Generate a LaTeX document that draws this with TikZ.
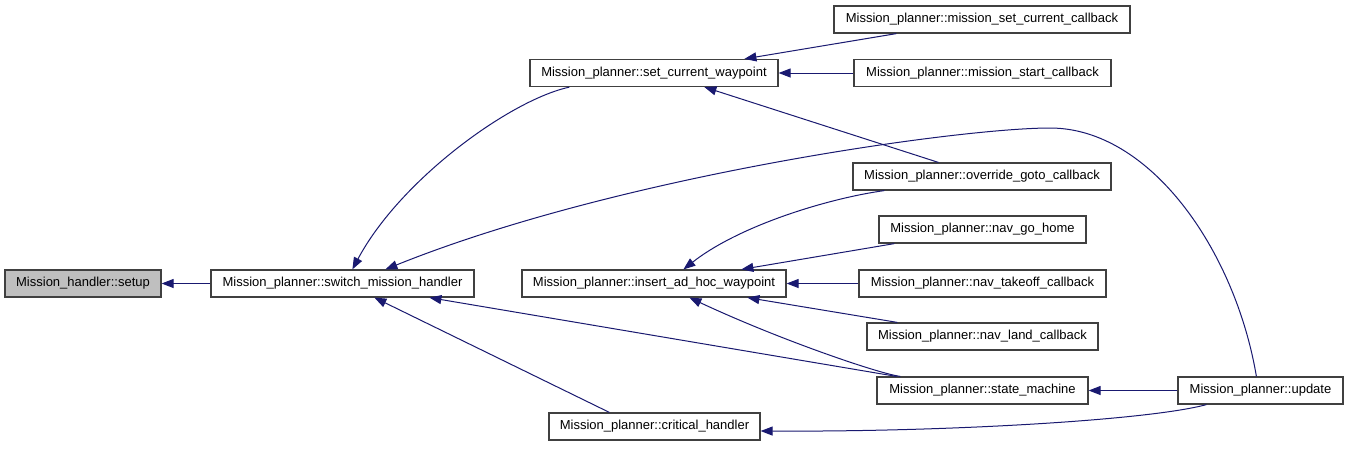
\documentclass[tikz,border=0pt]{standalone}
\usepackage{fontspec}
\setmainfont{Liberation Sans}
\usetikzlibrary{arrows.meta}
\definecolor{edgeblue}{HTML}{191970}
\definecolor{boxline}{HTML}{404040}
\definecolor{hlfill}{HTML}{BFBFBF}
\begin{document}
\begin{tikzpicture}[x=1pt,y=-1pt,
  fn/.style={draw=boxline,line width=1.2pt,fill=white,minimum height=27pt,inner sep=0pt,
    font=\fontsize{13}{15}\selectfont,anchor=center},
  cur/.style={fn,fill=hlfill},
  edge/.style={draw=edgeblue,line width=1pt,-{Triangle[length=12pt,width=9pt]}}]
\useasboundingbox[fill=white] (0,0) rectangle (1347,448);
% nodes
\node[cur,minimum width=156pt] (setup) at (83,283.5) {Mission\_handler::setup};
\node[fn,minimum width=263pt] (switch) at (342.5,283.5) {Mission\_planner::switch\_mission\_handler};
\node[fn,minimum width=248pt] (setcur) at (654,73) {Mission\_planner::set\_current\_waypoint};
\node[fn,minimum width=296pt] (msetcur) at (982,19.5) {Mission\_planner::mission\_set\_current\_callback};
\node[fn,minimum width=257pt] (mstart) at (982.5,73) {Mission\_planner::mission\_start\_callback};
\node[fn,minimum width=258pt] (override) at (982,176.5) {Mission\_planner::override\_goto\_callback};
\node[fn,minimum width=207pt] (gohome) at (982.5,229.5) {Mission\_planner::nav\_go\_home};
\node[fn,minimum width=264pt] (insert) at (654,283.5) {Mission\_planner::insert\_ad\_hoc\_waypoint};
\node[fn,minimum width=247pt] (takeoff) at (982.5,283.5) {Mission\_planner::nav\_takeoff\_callback};
\node[fn,minimum width=231pt] (land) at (982.5,336.5) {Mission\_planner::nav\_land\_callback};
\node[fn,minimum width=211pt] (statem) at (982.5,390.5) {Mission\_planner::state\_machine};
\node[fn,minimum width=165pt] (update) at (1260.5,390.5) {Mission\_planner::update};
\node[fn,minimum width=211pt] (critical) at (654.5,426.5) {Mission\_planner::critical\_handler};
% edges
\draw[edge] (switch.west) -- (setup.east);
\draw[edge] ([xshift=40pt]setcur.south west) .. controls (510,100) and (400,180) .. ([xshift=142pt]switch.north west);
\draw[edge] ([xshift=79pt]update.north west) .. controls (1235,250) and (1150,128) .. (1050,128)
   .. controls (960,128) and (620,175) .. ([xshift=175pt]switch.north west);
\draw[edge] ([xshift=63pt]msetcur.south west) -- ([xshift=215pt]setcur.north west);
\draw[edge] (mstart.west) -- (setcur.east);
\draw[edge] ([xshift=86pt]override.north west) -- ([xshift=175pt]setcur.south west);
\draw[edge] ([xshift=32pt]override.south west) .. controls (830,198) and (740,225) .. ([xshift=162pt]insert.north west);
\draw[edge] ([xshift=16pt]gohome.south west) -- ([xshift=220pt]insert.north west);
\draw[edge] (takeoff.west) -- (insert.east);
\draw[edge] ([xshift=31pt]land.north west) -- ([xshift=226pt]insert.south west);
\draw[edge] ([xshift=24pt]statem.north west) .. controls (880,374) and (780,340) .. ([xshift=168pt]insert.south west);
\draw[edge] ([xshift=20pt]statem.north west) -- ([xshift=219pt]switch.south west);
\draw[edge] ([xshift=61pt]critical.north west) -- ([xshift=164pt]switch.south west);
\draw[edge] (update.west) -- (statem.east);
\draw[edge] ([xshift=29pt]update.south west) .. controls (1150,420) and (950,432) .. ([yshift=-4.5pt]critical.east);
\end{tikzpicture}
\end{document}
